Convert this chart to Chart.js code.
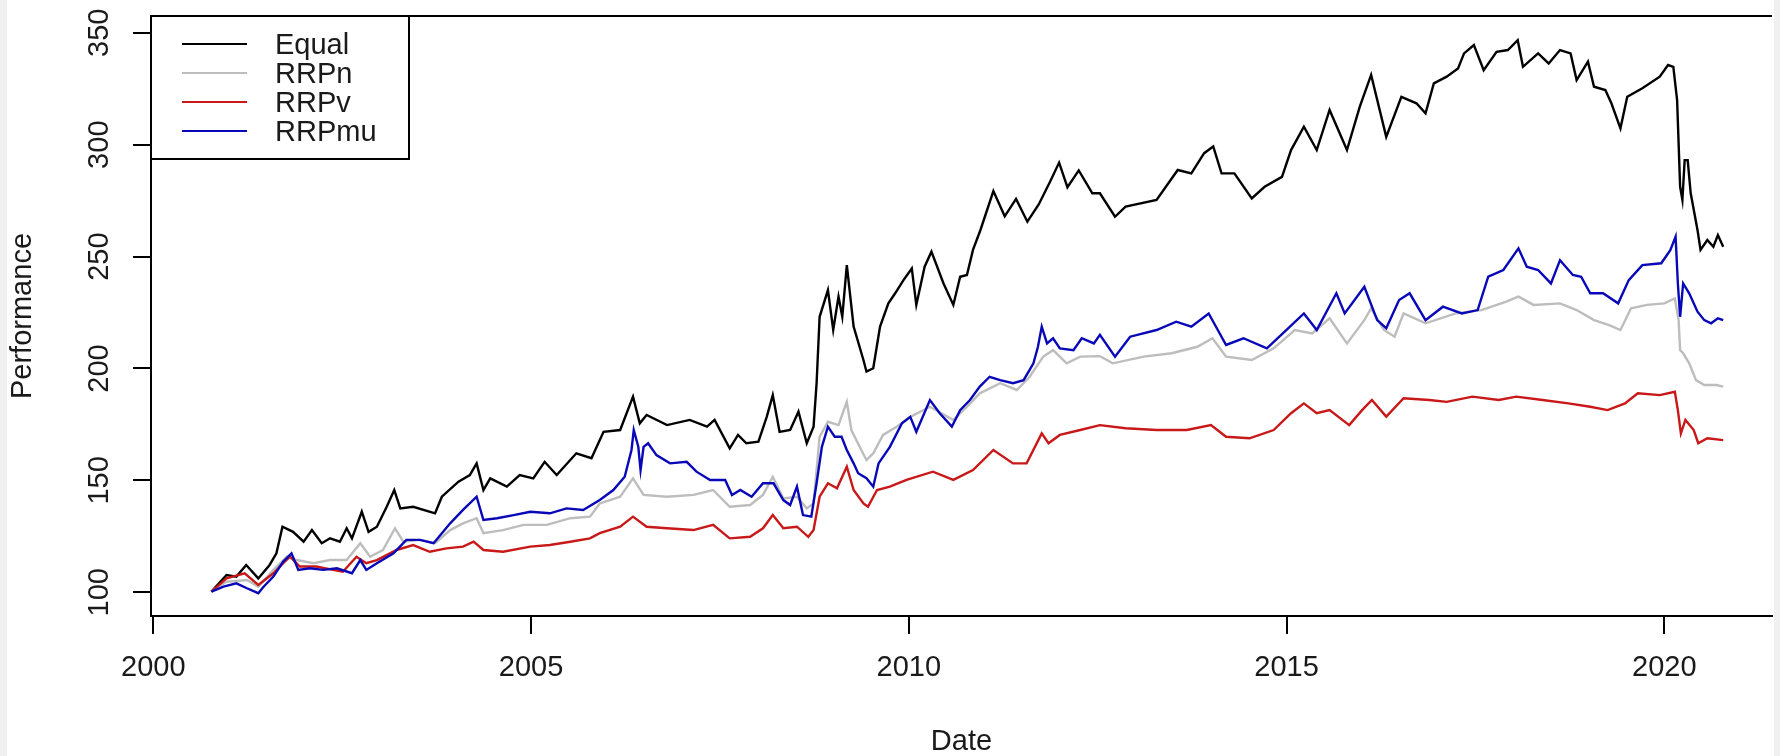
<!DOCTYPE html>
<html>
<head>
<meta charset="utf-8">
<script src="https://cdn.jsdelivr.net/npm/chart.js@4.4.1/dist/chart.umd.min.js"></script>
<style>
  html, body { margin: 0; padding: 0; background: #ffffff; overflow: hidden; }
  canvas { display: block; }
</style>
</head>
<body>
<canvas id="perf" width="1780" height="756"></canvas>
<script>
// Axis ticks
const xTickYears = [2000, 2005, 2010, 2015, 2020];
const yTickValues = [100, 150, 200, 250, 300, 350];

// Series names and colours (legend order)
const seriesNames = ['Equal', 'RRPn', 'RRPv', 'RRPmu'];
const seriesColors = ['#000000', '#bdbdbd', '#c81818', '#0808b8'];

// Equal-weight portfolio
const equalYears = [2000.77,2000.97,2001.10,2001.23,2001.39,2001.54,2001.63,2001.71,2001.85,2001.99,2002.10,2002.23,2002.34,2002.47,2002.56,2002.63,2002.76,2002.85,2002.96,2003.09,2003.19,2003.27,2003.44,2003.73,2003.82,2004.04,2004.19,2004.28,2004.37,2004.46,2004.68,2004.85,2005.03,2005.18,2005.34,2005.60,2005.80,2005.96,2006.18,2006.35,2006.44,2006.53,2006.80,2007.10,2007.33,2007.43,2007.63,2007.74,2007.85,2008.01,2008.12,2008.20,2008.29,2008.43,2008.54,2008.65,2008.74,2008.78,2008.82,2008.93,2009.00,2009.07,2009.12,2009.18,2009.27,2009.40,2009.44,2009.53,2009.62,2009.73,2009.82,2009.93,2010.04,2010.10,2010.21,2010.30,2010.46,2010.59,2010.68,2010.77,2010.85,2010.95,2011.12,2011.27,2011.42,2011.57,2011.72,2011.87,2011.99,2012.10,2012.25,2012.43,2012.53,2012.73,2012.87,2013.28,2013.56,2013.74,2013.91,2014.03,2014.14,2014.31,2014.54,2014.71,2014.94,2015.06,2015.23,2015.40,2015.57,2015.80,2015.97,2016.12,2016.32,2016.52,2016.72,2016.84,2016.95,2017.12,2017.27,2017.35,2017.48,2017.61,2017.78,2017.93,2018.06,2018.13,2018.33,2018.47,2018.62,2018.76,2018.84,2018.99,2019.07,2019.22,2019.30,2019.42,2019.51,2019.71,2019.94,2020.05,2020.12,2020.17,2020.21,2020.24,2020.27,2020.31,2020.35,2020.44,2020.48,2020.57,2020.65,2020.71,2020.78];
const equalPerf = [100.3,107.7,107.0,112.2,106.2,112.2,117.4,129.3,127.0,122.6,127.8,121.9,124.1,122.6,128.6,124.1,136.0,127.0,129.3,138.2,145.7,137.5,138.2,135.3,142.7,149.4,152.4,157.6,145.7,150.9,147.2,152.4,150.9,158.3,152.4,162.1,159.9,171.7,172.5,187.4,175.5,179.2,174.7,177.0,174.0,177.0,164.3,170.3,166.6,167.3,178.4,188.1,171.7,172.5,180.7,166.6,174.0,193.4,223.1,235.0,217.2,232.1,223.1,246.2,218.7,203.8,198.6,200.1,218.7,229.1,233.6,239.5,244.7,228.4,245.5,252.2,238.0,228.4,241.0,241.8,253.0,262.0,279.3,268.0,275.8,265.6,273.3,283.4,292.0,281.0,288.5,278.3,278.3,267.8,272.3,275.3,288.7,287.2,296.2,299.2,287.2,287.2,276.0,281.2,285.6,297.6,308.0,297.6,315.5,297.6,317.0,331.2,303.5,321.4,318.5,314.0,327.4,330.4,334.1,340.8,344.5,333.3,341.5,342.3,346.7,334.8,340.8,336.3,342.3,340.8,328.9,337.1,325.9,324.4,318.5,307.3,321.4,325.2,330.4,335.6,334.8,319.9,281.2,275.3,293.1,293.1,278.3,261.9,253.0,257.4,254.4,259.6,254.4];

// Naive risk parity
const rrpnYears = [2000.77,2000.97,2001.24,2001.39,2001.59,2001.77,2001.90,2002.12,2002.34,2002.56,2002.74,2002.87,2003.04,2003.20,2003.31,2003.53,2003.73,2003.93,2004.10,2004.28,2004.37,2004.63,2004.90,2005.21,2005.52,2005.78,2005.91,2006.18,2006.35,2006.49,2006.80,2007.15,2007.41,2007.63,2007.90,2008.07,2008.20,2008.34,2008.52,2008.65,2008.74,2008.82,2008.93,2009.07,2009.18,2009.24,2009.35,2009.44,2009.53,2009.66,2009.84,2010.02,2010.28,2010.59,2010.77,2010.94,2011.21,2011.43,2011.60,2011.78,2011.91,2012.09,2012.27,2012.53,2012.70,2013.11,2013.48,2013.82,2014.02,2014.20,2014.54,2014.83,2015.11,2015.34,2015.57,2015.80,2016.03,2016.12,2016.29,2016.43,2016.55,2016.84,2017.24,2017.58,2017.90,2018.07,2018.27,2018.62,2018.84,2019.07,2019.27,2019.42,2019.56,2019.77,2020.00,2020.14,2020.19,2020.21,2020.25,2020.33,2020.42,2020.53,2020.69,2020.78];
const rrpnPerf = [100.7,104.7,105.5,102.5,110.0,115.9,114.4,113.0,114.4,114.4,121.9,115.9,118.9,128.6,122.6,123.4,121.9,127.8,130.8,133.1,126.4,127.8,130.1,130.1,133.1,133.8,139.7,142.7,150.9,143.5,142.7,143.5,145.7,138.2,139.0,143.5,151.6,141.9,142.7,137.5,139.7,169.5,176.2,174.7,185.1,172.5,165.0,159.1,162.1,170.3,174.0,178.4,182.9,177.0,182.9,188.9,193.4,190.4,196.3,205.3,208.2,202.3,205.3,205.5,202.3,205.3,206.8,209.7,213.5,205.3,203.8,209.0,217.2,215.7,222.4,211.2,221.6,226.9,217.2,214.2,224.6,220.2,224.6,226.1,229.8,232.1,228.4,229.1,226.1,221.6,219.4,217.2,226.9,228.4,229.1,231.3,221.6,208.2,206.8,202.3,194.8,192.6,192.6,191.9];

// Volatility-based risk parity
const rrpvYears = [2000.77,2000.97,2001.21,2001.39,2001.59,2001.72,2001.81,2001.94,2002.16,2002.38,2002.51,2002.69,2002.82,2002.96,2003.22,2003.44,2003.66,2003.88,2004.10,2004.24,2004.37,2004.63,2004.99,2005.25,2005.52,2005.78,2005.91,2006.18,2006.35,2006.53,2006.80,2007.15,2007.41,2007.63,2007.90,2008.07,2008.20,2008.34,2008.52,2008.67,2008.74,2008.82,2008.93,2009.05,2009.18,2009.27,2009.40,2009.46,2009.58,2009.75,2009.97,2010.32,2010.59,2010.85,2011.12,2011.38,2011.56,2011.76,2011.85,2012.00,2012.27,2012.53,2012.87,2013.28,2013.68,2014.00,2014.20,2014.51,2014.83,2015.06,2015.23,2015.40,2015.57,2015.83,2016.00,2016.13,2016.32,2016.55,2016.89,2017.12,2017.46,2017.81,2018.04,2018.39,2018.73,2019.02,2019.25,2019.48,2019.65,2019.94,2020.14,2020.18,2020.22,2020.28,2020.39,2020.45,2020.57,2020.78];
const rrpvPerf = [100.3,106.2,108.5,103.3,108.5,113.0,115.9,111.5,111.5,110.0,109.2,115.9,113.0,114.4,118.9,121.1,118.1,119.6,120.4,122.6,118.9,118.1,120.4,121.1,122.6,124.1,126.4,129.3,133.8,129.3,128.6,127.8,130.1,124.1,124.8,128.6,134.5,128.6,129.3,124.8,127.8,142.7,148.7,146.5,156.1,145.7,139.7,138.2,145.7,147.2,150.2,153.9,150.2,154.6,163.6,157.6,157.6,171.0,166.6,170.3,172.5,174.7,173.3,172.5,172.5,174.7,169.5,168.8,172.5,180.0,184.4,180.0,181.4,174.7,181.4,185.9,178.5,186.7,185.9,185.1,187.4,185.9,187.4,185.9,184.4,182.9,181.4,184.4,188.9,188.1,189.6,181.4,171.0,177.0,172.5,166.6,168.8,168.0];

// Return-adjusted risk parity
const rrpmuYears = [2000.77,2000.93,2001.10,2001.24,2001.39,2001.46,2001.59,2001.72,2001.83,2001.92,2002.07,2002.25,2002.43,2002.63,2002.74,2002.82,2002.96,2003.18,2003.35,2003.53,2003.71,2003.82,2003.93,2004.10,2004.28,2004.37,2004.55,2004.77,2004.99,2005.25,2005.47,2005.69,2005.91,2006.09,2006.24,2006.33,2006.36,2006.42,2006.45,2006.49,2006.55,2006.66,2006.84,2007.06,2007.19,2007.37,2007.57,2007.66,2007.77,2007.92,2008.07,2008.21,2008.34,2008.43,2008.52,2008.60,2008.71,2008.78,2008.85,2008.93,2009.02,2009.11,2009.18,2009.27,2009.33,2009.44,2009.53,2009.60,2009.75,2009.91,2010.02,2010.10,2010.28,2010.41,2010.57,2010.68,2010.81,2010.94,2011.07,2011.21,2011.38,2011.52,2011.65,2011.71,2011.76,2011.83,2011.91,2012.00,2012.18,2012.29,2012.45,2012.53,2012.73,2012.93,2013.28,2013.54,2013.74,2013.97,2014.20,2014.43,2014.74,2015.00,2015.23,2015.40,2015.66,2015.77,2016.03,2016.20,2016.32,2016.49,2016.63,2016.84,2017.07,2017.32,2017.53,2017.67,2017.87,2018.07,2018.18,2018.33,2018.50,2018.62,2018.79,2018.90,2019.02,2019.19,2019.39,2019.53,2019.71,2019.96,2020.08,2020.15,2020.18,2020.21,2020.25,2020.33,2020.44,2020.53,2020.62,2020.71,2020.78];
const rrpmuPerf = [100.3,102.5,104.0,101.8,99.6,102.5,107.0,113.7,117.4,110.0,110.7,110.0,110.7,108.5,114.4,110.0,113.0,117.4,123.4,123.4,121.9,126.4,130.8,136.8,142.7,132.3,133.1,134.5,136.0,135.3,137.5,136.8,141.2,145.7,151.6,163.6,172.5,165.0,154.6,165.0,166.6,161.3,157.6,158.3,153.9,150.2,150.2,143.5,145.7,142.7,148.7,148.7,141.2,139.0,147.2,134.5,133.8,148.7,165.0,174.0,169.5,169.5,163.6,157.6,153.2,151.0,147.2,157.6,165.0,175.5,178.4,171.7,185.9,180.0,174.0,181.4,185.9,191.9,196.3,194.8,193.4,194.8,202.3,209.7,218.7,211.2,213.5,209.0,208.2,213.5,211.2,215.0,205.3,214.2,217.2,220.9,218.7,224.6,210.5,213.5,209.0,217.2,224.6,217.2,233.6,224.6,236.5,221.6,218.0,230.6,233.6,221.6,227.6,224.6,226.1,241.0,244.0,253.7,245.5,244.0,238.0,248.4,241.8,241.0,233.6,233.6,229.1,239.5,246.2,247.0,252.9,258.9,238.0,223.1,238.0,233.6,225.4,221.6,220.2,222.4,221.6];

const seriesYears = [equalYears, rrpnYears, rrpvYears, rrpmuYears];
const seriesPerf = [equalPerf, rrpnPerf, rrpvPerf, rrpmuPerf];

const FONT = '"Liberation Sans", Arial, Helvetica, sans-serif';
const INK = '#1a1a1a';
Chart.defaults.font.family = FONT;
Chart.defaults.font.size = 29;
Chart.defaults.color = INK;

const datasets = seriesNames.map((name, i) => ({
  label: name,
  data: seriesYears[i].map((yr, k) => ({ x: yr, y: seriesPerf[i][k] })),
  borderColor: seriesColors[i],
  backgroundColor: seriesColors[i],
  borderWidth: 2.4,
  borderJoinStyle: 'miter',
  pointRadius: 0,
  tension: 0,
  fill: false,
  order: seriesNames.length - i
}));

// Page backdrop: white plotting sheet with thin grey margins
const backdrop = {
  id: 'backdrop',
  beforeDraw(chart) {
    const ctx = chart.ctx;
    ctx.save();
    ctx.fillStyle = '#ffffff';
    ctx.fillRect(0, 0, chart.width, chart.height);
    ctx.fillStyle = '#f0f0f0';
    ctx.fillRect(0, 0, 7, chart.height);
    ctx.fillRect(1774, 0, chart.width - 1774, chart.height);
    ctx.restore();
  }
};

// Box top edge, rotated y tick labels and the boxed legend
const frameAndLegend = {
  id: 'frameAndLegend',
  afterDraw(chart) {
    const ctx = chart.ctx;
    const area = chart.chartArea;
    const ys = chart.scales.y;
    ctx.save();
    ctx.strokeStyle = '#000000';
    ctx.lineWidth = 2;
    ctx.beginPath();
    ctx.moveTo(area.left - 1, area.top);
    ctx.lineTo(area.right, area.top);
    ctx.stroke();

    ctx.fillStyle = INK;
    ctx.font = '29px ' + FONT;
    ctx.textAlign = 'center';
    ctx.textBaseline = 'alphabetic';
    yTickValues.forEach(v => {
      const py = ys.getPixelForValue(v);
      ctx.save();
      ctx.translate(108, py);
      ctx.rotate(-Math.PI / 2);
      ctx.fillText(String(v), 0, 0);
      ctx.restore();
    });

    // legend
    const boxL = area.left, boxT = area.top, boxR = 409, boxB = 159;
    ctx.lineWidth = 2;
    ctx.strokeStyle = '#000000';
    ctx.strokeRect(boxL, boxT, boxR - boxL, boxB - boxT);
    ctx.textAlign = 'left';
    ctx.textBaseline = 'middle';
    seriesNames.forEach((name, i) => {
      const ry = 44 + i * 29;
      ctx.strokeStyle = seriesColors[i];
      ctx.lineWidth = 2;
      ctx.beginPath();
      ctx.moveTo(182, ry);
      ctx.lineTo(247, ry);
      ctx.stroke();
      ctx.fillStyle = INK;
      ctx.fillText(name, 275, ry + 2);
    });
    ctx.restore();
  }
};

new Chart(document.getElementById('perf'), {
  type: 'line',
  data: { datasets },
  options: {
    responsive: false,
    animation: false,
    devicePixelRatio: 1,
    layout: { padding: { left: 0, right: 8, top: 16, bottom: 0 } },
    plugins: { legend: { display: false }, tooltip: { enabled: false } },
    scales: {
      x: {
        type: 'linear',
        min: 1999.97,
        max: 2021.426,
        afterBuildTicks: s => { s.ticks = xTickYears.map(v => ({ value: v })); },
        afterFit: s => { s.height = 140; },
        grid: { drawOnChartArea: false, drawTicks: true, tickLength: 18, color: '#000000', lineWidth: 2 },
        border: { display: true, color: '#000000', width: 2 },
        ticks: { padding: 17, maxRotation: 0, autoSkip: false, color: INK, font: { size: 29 }, callback: v => String(v) },
        title: { display: true, text: 'Date', color: INK, font: { size: 29, lineHeight: 1 }, padding: { top: 0, bottom: 0 } }
      },
      y: {
        type: 'linear',
        min: 89.4,
        max: 357.5,
        afterBuildTicks: s => { s.ticks = yTickValues.map(v => ({ value: v })); },
        afterFit: s => { s.width = 151; },
        grid: { drawOnChartArea: false, drawTicks: true, tickLength: 18, color: '#000000', lineWidth: 2 },
        border: { display: true, color: '#000000', width: 2 },
        ticks: { display: false },
        title: { display: true, text: 'Performance', color: INK, font: { size: 29, lineHeight: 1 }, padding: { top: 8, bottom: 0 } }
      }
    }
  },
  plugins: [backdrop, frameAndLegend]
});
</script>
</body>
</html>
